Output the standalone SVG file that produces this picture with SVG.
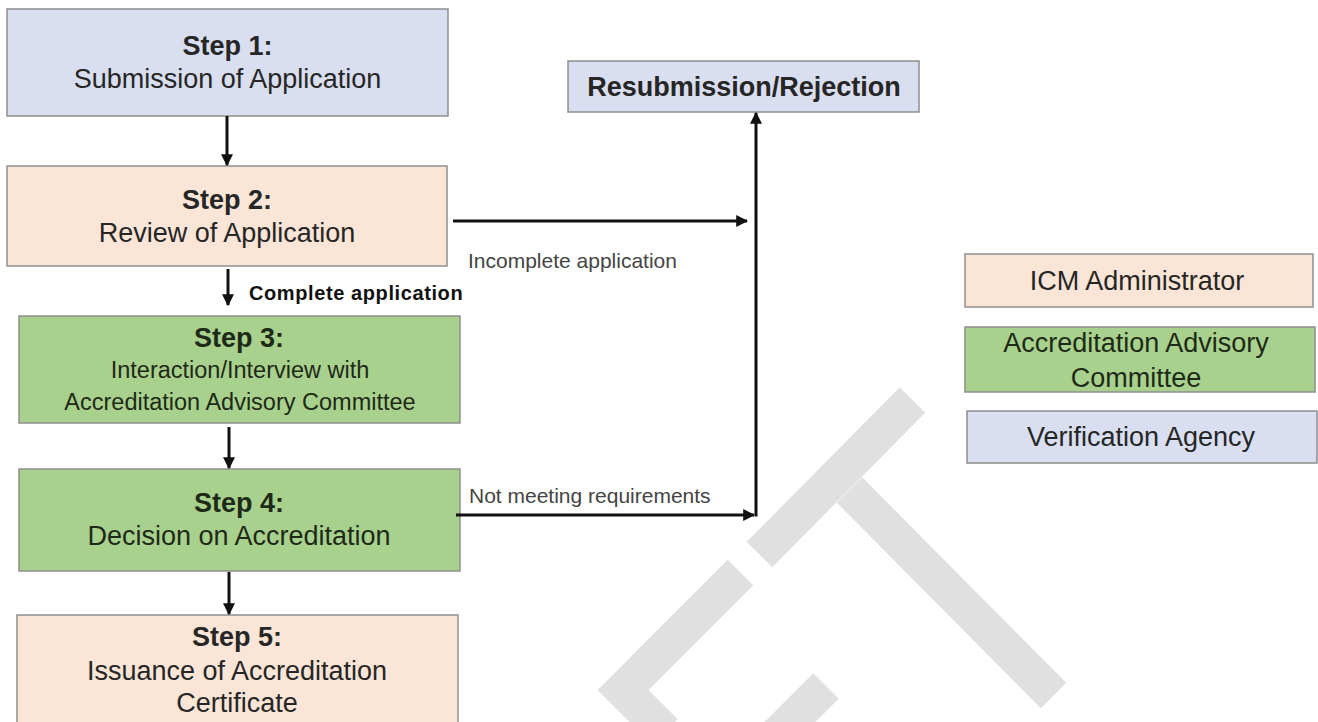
<svg xmlns="http://www.w3.org/2000/svg" width="1318" height="722" viewBox="0 0 1318 722">
<style>
  .box { stroke: #8e8e8e; stroke-width: 1.5; }
  .blue { fill: #d9dff0; }
  .peach { fill: #fbe5d6; }
  .green { fill: #a9d18e; }
  text { font-family: "Liberation Sans", Arial, sans-serif; fill: #262626; text-anchor: middle; }
  .h { font-weight: bold; font-size: 27px; }
  .b { font-size: 27px; }
  .g { fill: #1e2a17; }
  .lbl { font-size: 21px; fill: #444; text-anchor: start; }
  .lblb { font-size: 20px; font-weight: bold; letter-spacing: 0.6px; fill: #111; text-anchor: start; }
  .conn { stroke: #111; stroke-width: 3; fill: none; }
  .wm { stroke: #e0e0e0; stroke-width: 36; fill: none; stroke-linecap: butt; stroke-linejoin: miter; }
</style>
<defs>
  <marker id="ah" viewBox="0 0 10 10" refX="9" refY="5" markerWidth="4" markerHeight="4" orient="auto" markerUnits="strokeWidth">
    <path d="M0,0 L10,5 L0,10 z" fill="#111"/>
  </marker>
</defs>
<rect width="1318" height="722" fill="#ffffff"/>

<g id="watermark">
  <line class="wm" x1="912.5" y1="400" x2="759.5" y2="554.5"/>
  <line class="wm" x1="849.5" y1="490" x2="1053.5" y2="695.5"/>
  <polyline class="wm" points="740.5,572.5 623,690 665,732"/>
  <line class="wm" x1="826" y1="686" x2="776" y2="736"/>
</g>

<g id="step1">
  <rect class="box blue" x="7" y="9" width="441" height="107"/>
  <text class="h" x="227.5" y="55">Step 1:</text>
  <text class="b" x="227.5" y="88">Submission of Application</text>
</g>
<g id="step2">
  <rect class="box peach" x="7" y="166" width="440" height="100"/>
  <text class="h" x="227" y="209">Step 2:</text>
  <text class="b" x="227" y="242">Review of Application</text>
</g>
<g id="step3">
  <rect class="box green" x="19" y="316" width="441" height="107"/>
  <text class="h g" x="239" y="347">Step 3:</text>
  <text class="g" x="240" y="378" font-size="23.5">Interaction/Interview with</text>
  <text class="g" x="240" y="410" font-size="23.5">Accreditation Advisory Committee</text>
</g>
<g id="step4">
  <rect class="box green" x="19" y="469" width="441" height="102"/>
  <text class="h g" x="239" y="512">Step 4:</text>
  <text class="b g" x="239" y="545">Decision on Accreditation</text>
</g>
<g id="step5">
  <rect class="box peach" x="17" y="615" width="441" height="120"/>
  <text class="h" x="237" y="646">Step 5:</text>
  <text class="b" x="237" y="680">Issuance of Accreditation</text>
  <text class="b" x="237" y="712">Certificate</text>
</g>
<g id="resub">
  <rect class="box blue" x="568" y="61" width="351" height="51"/>
  <text class="h" x="744" y="96">Resubmission/Rejection</text>
</g>

<g id="legend-icm">
  <rect class="box peach" x="965" y="254" width="348" height="53"/>
  <text class="b" x="1137" y="290">ICM Administrator</text>
</g>
<g id="legend-aac">
  <rect class="box green" x="965" y="327" width="350" height="65"/>
  <text class="b g" x="1136" y="352">Accreditation Advisory</text>
  <text class="b g" x="1136" y="387">Committee</text>
</g>
<g id="legend-va">
  <rect class="box blue" x="967" y="411" width="350" height="52"/>
  <text class="b" x="1141" y="446">Verification Agency</text>
</g>

<g id="connectors">
  <line class="conn" x1="227" y1="116" x2="227" y2="165" marker-end="url(#ah)"/>
  <line class="conn" x1="228" y1="269" x2="228" y2="305" marker-end="url(#ah)"/>
  <line class="conn" x1="229" y1="427" x2="229" y2="468" marker-end="url(#ah)"/>
  <line class="conn" x1="229" y1="572" x2="229" y2="614" marker-end="url(#ah)"/>
  <line class="conn" x1="453" y1="221" x2="747" y2="221" marker-end="url(#ah)"/>
  <line class="conn" x1="456" y1="515" x2="754" y2="515" marker-end="url(#ah)"/>
  <line class="conn" x1="756" y1="516.5" x2="756" y2="113" marker-end="url(#ah)"/>
  <text class="lblb" x="249" y="300">Complete application</text>
  <text class="lbl" x="468" y="268">Incomplete application</text>
  <text class="lbl" x="469" y="503">Not meeting requirements</text>
</g>
</svg>
